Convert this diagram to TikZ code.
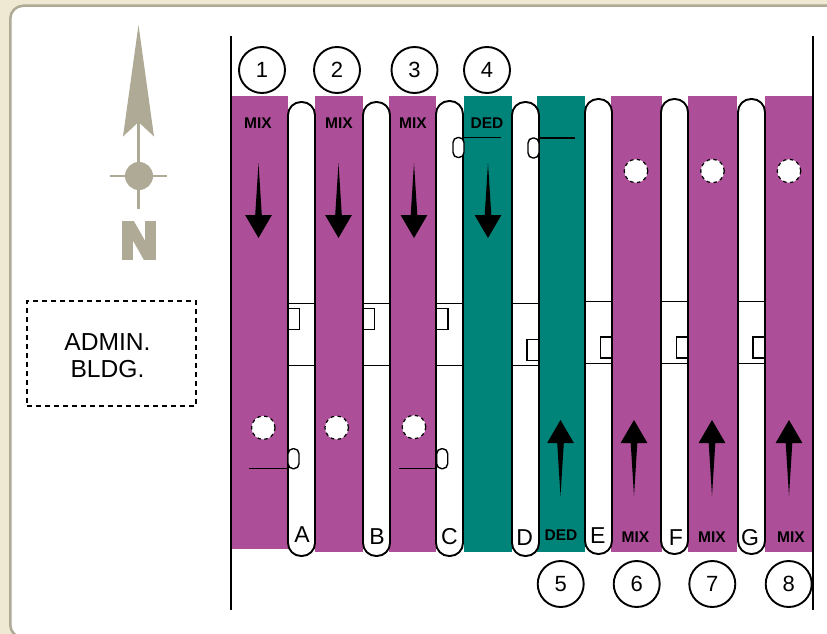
\documentclass[tikz,border=0pt]{standalone}
\usepackage{fontspec}
\setmainfont{Liberation Sans}
\newfontfamily\northfont[FakeBold=9]{Liberation Sans Bold}
\usetikzlibrary
  {
    positioning,
  }
\definecolor{mixlane}{HTML}{AC4E98}
\definecolor{dedlane}{HTML}{00847A}
\definecolor{sandback}{HTML}{EFE9D3}
\definecolor{sandline}{HTML}{AEAA96}
\tikzset
  {
    lane/.style=
      {
        anchor=north west,
        inner sep=0,
        outer sep=0,
      },
    mix lane/.style={lane, fill=mixlane},
    ded lane/.style={lane, fill=dedlane},
    pier/.style=
      {
        draw,
        fill=white,
        line width=1.9pt,
        rounded corners=13pt,
        anchor=north west,
        inner sep=0,
        outer sep=0,
        minimum width=27pt,
      },
    bay/.style=
      {
        draw,
        fill=white,
        line width=1.6pt,
        inner sep=0,
        outer sep=0,
        minimum width=27pt,
        minimum height=62pt,
      },
    booth/.style=
      {
        draw,
        fill=white,
        line width=1.3pt,
        anchor=north west,
        inner sep=0,
        outer sep=0,
        minimum width=11.5pt,
        minimum height=21pt,
      },
    gate/.style=
      {
        draw,
        fill=white,
        line width=1.4pt,
        rounded corners=5pt,
        anchor=north west,
        inner sep=0,
        outer sep=0,
        minimum width=11pt,
        minimum height=20pt,
      },
    leader/.style={line width=1.4pt},
    post/.style=
      {
        draw,
        fill=white,
        shape=circle,
        line width=1.2pt,
        dash pattern=on 3.5pt off 3.5pt,
        inner sep=0,
        minimum size=23.5pt,
      },
    number/.style=
      {
        draw,
        shape=circle,
        line width=1.9pt,
        inner sep=0,
        minimum size=46pt,
        font=\fontsize{22}{22}\selectfont,
      },
    pier label/.style=
      {
        inner sep=0,
        font=\fontsize{23}{23}\selectfont,
      },
    kind/.style=
      {
        inner sep=0,
        font=\fontsize{15.5}{15.5}\selectfont\bfseries,
      },
    wall/.style={line width=2.3pt},
    down flow/.pic=
      {
        \fill (0,0) -- (3.3,52) -- (13.4,52) -- (0,75) -- (-13.4,52) -- (-3.3,52) -- cycle;
      },
    up flow/.pic=
      {
        \fill (0,0) -- (3.3,-53) -- (13.4,-53) -- (0,-76) -- (-13.4,-53) -- (-3.3,-53) -- cycle;
      },
  }

\begin{document}
\begin{tikzpicture}[x=1pt, y=-1pt]
  \useasboundingbox (0,0) rectangle (827,634);
  \clip (0,0) rectangle (827,634);
  \fill[sandback] (0,0) rectangle (827,634);
  \node
    [
      draw=sandline,
      fill=white,
      line width=2.5pt,
      rounded corners=13pt,
      anchor=north west,
      inner sep=0,
      minimum width=840pt,
      minimum height=632pt,
    ]
    (panel) at (9,4.5) {};

  % north arrow
  \fill[sandline] (138.5,25) -- (154,136.5) -- (138.5,122) -- (123,136.5) -- cycle;
  \node[fill=sandline, shape=circle, inner sep=0, minimum size=28pt] (hub) at (139,176) {};
  \coordinate (needle top) at (138.5,122);
  \coordinate (needle end) at (138.5,209);
  \coordinate (bar west) at (110,176);
  \coordinate (bar east) at (167,176);
  \draw[sandline, line width=2.2pt] (needle top) -- (needle end);
  \draw[sandline, line width=2.2pt] (bar west) -- (bar east);
  \node[sandline, inner sep=0, font=\fontsize{50}{50}\northfont] (north) at (139,240.5) {N};

  \node
    [
      draw,
      line width=1.8pt,
      dash pattern=on 5pt off 4pt,
      minimum width=169pt,
      minimum height=105pt,
    ]
    (admin) at (111.5,353.5) {};
  \node
    [
      inner sep=0,
      align=center,
      font=\fontsize{24.6}{27.6}\selectfont,
    ]
    (admin label) at (107.5,355.5) {ADMIN.\\BLDG.};

  % traffic lanes
  \node[mix lane, minimum width=57pt, minimum height=453pt] (lane1) at (231,96) {};
  \node[mix lane, minimum width=48pt, minimum height=456pt] (lane2) at (315,96) {};
  \node[mix lane, minimum width=47pt, minimum height=456pt] (lane3) at (389,96) {};
  \node[ded lane, minimum width=48pt, minimum height=456pt] (lane4) at (464,96) {};
  \node[ded lane, minimum width=48pt, minimum height=456pt] (lane5) at (537,96) {};
  \node[mix lane, minimum width=51pt, minimum height=456pt] (lane6) at (611,96) {};
  \node[mix lane, minimum width=49pt, minimum height=456pt] (lane7) at (688,96) {};
  \node[mix lane, minimum width=47pt, minimum height=456pt] (lane8) at (765,96) {};

  % piers
  \node[pier, minimum height=454pt] (pierA) at (288,102) {};
  \node[pier, minimum height=454pt] (pierB) at (363,102) {};
  \node[pier, minimum height=455pt] (pierC) at (436,101) {};
  \node[pier, minimum height=454pt] (pierD) at (512,102) {};
  \node[pier, minimum height=455pt] (pierE) at (585,99) {};
  \node[pier, minimum height=455pt] (pierF) at (661,99) {};
  \node[pier, minimum height=455pt] (pierG) at (738,99) {};

  \node[bay] (bayA) at (301.5,334.5) {};
  \node[bay] (bayB) at (376.5,334.5) {};
  \node[bay] (bayC) at (449.5,334.5) {};
  \node[bay] (bayD) at (525.5,334.5) {};
  \node[bay] (bayE) at (598.5,332.5) {};
  \node[bay] (bayF) at (674.5,332.5) {};
  \node[bay] (bayG) at (751.5,332.5) {};

  \node[booth] (boothA) at (288,308.5) {};
  \node[booth] (boothB) at (363,308.5) {};
  \node[booth] (boothC) at (436.5,308.5) {};
  \node[booth] (boothD) at (527,339.5) {};
  \node[booth] (boothE) at (600.5,337) {};
  \node[booth] (boothF) at (676.5,337) {};
  \node[booth] (boothG) at (753,337) {};

  % gates and their leaders
  \node[gate] (gateA) at (288,448.7) {};
  \node[gate] (gateC) at (436.7,448.7) {};
  \node[gate] (gateD) at (453,137.5) {};
  \node[gate] (gateE) at (528,138) {};
  \coordinate (leaderA) at (249.3,468.7);
  \coordinate (leaderC) at (399.3,468.7);
  \coordinate (leaderD) at (500.7,137.5);
  \coordinate (leaderE) at (575,138);
  \draw[leader] (gateA.south west) -- (leaderA);
  \draw[leader] (gateC.south west) -- (leaderC);
  \draw[leader] (gateD.north east) -- (leaderD);
  \draw[leader] (gateE.north east) -- (leaderE);

  \node[post] (post1) at (263.3,427.7) {};
  \node[post] (post2) at (336.7,427.7) {};
  \node[post] (post3) at (414,427) {};
  \node[post] (post6) at (636,171) {};
  \node[post] (post7) at (712.5,171) {};
  \node[post] (post8) at (789,171) {};

  \pic at (258.5,163) {down flow};
  \pic at (338.5,163) {down flow};
  \pic at (414,163) {down flow};
  \pic at (488,163) {down flow};
  \pic at (560.5,496) {up flow};
  \pic at (634,496) {up flow};
  \pic at (712,496) {up flow};
  \pic at (789,496) {up flow};

  \node[kind] (kind1) at (258,123) {MIX};
  \node[kind] (kind2) at (339,123) {MIX};
  \node[kind] (kind3) at (413,123) {MIX};
  \node[kind] (kind4) at (487,123) {DED};
  \node[kind] (kind5) at (561,535) {DED};
  \node[kind] (kind6) at (635.5,537.5) {MIX};
  \node[kind] (kind7) at (712,537.5) {MIX};
  \node[kind] (kind8) at (791,537.5) {MIX};

  \node[pier label] (labelA) at (302,534.5) {A};
  \node[pier label] (labelB) at (377,537) {B};
  \node[pier label] (labelC) at (449.5,537) {C};
  \node[pier label] (labelD) at (524.7,538) {D};
  \node[pier label] (labelE) at (597.7,536) {E};
  \node[pier label] (labelF) at (676,537.7) {F};
  \node[pier label] (labelG) at (750,538) {G};

  \node[number] (one) at (262,70) {1};
  \node[number] (two) at (337,70) {2};
  \node[number] (three) at (414.5,70) {3};
  \node[number] (four) at (487,70) {4};
  \node[number] (five) at (560.7,584) {5};
  \node[number] (six) at (636.7,584) {6};
  \node[number] (seven) at (712.3,584) {7};
  \node[number] (eight) at (788.7,584) {8};

  \coordinate (west top) at (231,36.5);
  \coordinate (west end) at (231,609.5);
  \coordinate (east top) at (812.8,36.5);
  \coordinate (east end) at (812.8,609.5);
  \draw[wall] (west top) -- (west end);
  \draw[wall] (east top) -- (east end);
\end{tikzpicture}
\end{document}
